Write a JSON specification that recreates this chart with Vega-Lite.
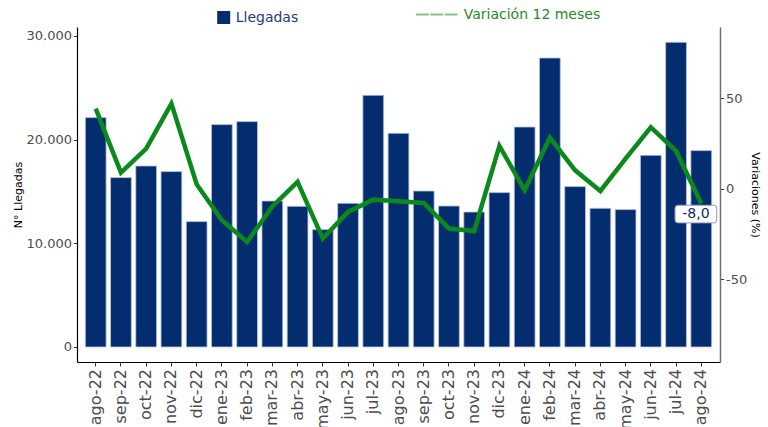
{
  "$schema": "https://vega.github.io/schema/vega-lite/v6.json",
  "width": 643,
  "height": 335,
  "autosize": {"type": "none"},
  "padding": {"left": 77, "top": 27, "right": 48, "bottom": 65},
  "background": "white",
  "config": {
    "font": "DejaVu Sans",
    "view": {"stroke": null},
    "locale": {"number": {"decimal": ",", "thousands": ".", "grouping": [3], "currency": ["", ""], "minus": "-"}}
  },
  "data": {
    "values": [
      {"mes": "ago-22", "llegadas": 22128, "variacion": 44.4},
      {"mes": "sep-22", "llegadas": 16340, "variacion": 9.1},
      {"mes": "oct-22", "llegadas": 17460, "variacion": 22.3},
      {"mes": "nov-22", "llegadas": 16920, "variacion": 47.2},
      {"mes": "dic-22", "llegadas": 12096, "variacion": 2.6},
      {"mes": "ene-23", "llegadas": 21453, "variacion": -17.3},
      {"mes": "feb-23", "llegadas": 21742, "variacion": -29.3},
      {"mes": "mar-23", "llegadas": 14083, "variacion": -9.6},
      {"mes": "abr-23", "llegadas": 13572, "variacion": 3.9},
      {"mes": "may-23", "llegadas": 11324, "variacion": -27.4},
      {"mes": "jun-23", "llegadas": 13861, "variacion": -12.7},
      {"mes": "jul-23", "llegadas": 24279, "variacion": -5.9},
      {"mes": "ago-23", "llegadas": 20614, "variacion": -6.8},
      {"mes": "sep-23", "llegadas": 15048, "variacion": -7.7},
      {"mes": "oct-23", "llegadas": 13601, "variacion": -21.9},
      {"mes": "nov-23", "llegadas": 13022, "variacion": -23.2},
      {"mes": "dic-23", "llegadas": 14893, "variacion": 23.8},
      {"mes": "ene-24", "llegadas": 21221, "variacion": -0.7},
      {"mes": "feb-24", "llegadas": 27877, "variacion": 28.4},
      {"mes": "mar-24", "llegadas": 15472, "variacion": 10.3},
      {"mes": "abr-24", "llegadas": 13379, "variacion": -1.1},
      {"mes": "may-24", "llegadas": 13254, "variacion": 16.8},
      {"mes": "jun-24", "llegadas": 18491, "variacion": 34.1},
      {"mes": "jul-24", "llegadas": 29391, "variacion": 21.0},
      {"mes": "ago-24", "llegadas": 18945, "variacion": -8.0}
    ]
  },
  "encoding": {
    "x": {
      "field": "mes",
      "type": "nominal",
      "sort": null,
      "scale": {"paddingInner": 0.176, "paddingOuter": 0.33},
      "axis": {
        "title": null,
        "labelAngle": -90,
        "labelAlign": "right",
        "labelBaseline": "middle",
        "labelFontSize": 16,
        "labelColor": "#4D4D4D",
        "labelPadding": 2.5,
        "tickSize": 4,
        "tickColor": "#333333",
        "domainColor": "#000000",
        "domainWidth": 1.2,
        "grid": false
      }
    }
  },
  "layer": [
    {
      "mark": {"type": "bar", "stroke": "#b9c5de", "strokeWidth": 0.8},
      "encoding": {
        "y": {
          "field": "llegadas",
          "type": "quantitative",
          "scale": {"domain": [-1447, 30867], "nice": false, "zero": false},
          "axis": {
            "title": "N° Llegadas",
            "titleFontSize": 11,
            "titleFontWeight": "normal",
            "titleColor": "#000000",
            "titlePadding": 3,
            "values": [0, 10000, 20000, 30000],
            "format": ",.0f",
            "labelFontSize": 13,
            "labelColor": "#4D4D4D",
            "labelPadding": 2,
            "tickSize": 3.5,
            "tickColor": "#333333",
            "domainColor": "#000000",
            "domainWidth": 1.2,
            "grid": false
          }
        },
        "fill": {
          "datum": "Llegadas",
          "scale": {"domain": ["Llegadas"], "range": ["#032D6F"]},
          "legend": {
            "title": null,
            "orient": "none",
            "legendX": 139.7,
            "legendY": -16.5,
            "padding": 0,
            "symbolType": "square",
            "symbolSize": 169,
            "symbolStrokeWidth": 0,
            "labelFontSize": 14,
            "labelColor": "#1F3A7A",
            "labelOffset": 5
          }
        }
      }
    },
    {
      "encoding": {
        "y": {
          "field": "variacion",
          "type": "quantitative",
          "scale": {"domain": [-95.6, 89.5], "nice": false, "zero": false},
          "axis": {
            "orient": "right",
            "title": "Variaciones (%)",
            "titleFontSize": 11,
            "titleFontWeight": "normal",
            "titleColor": "#000000",
            "titlePadding": 3,
            "values": [-50, 0, 50],
            "format": ".0f",
            "labelFontSize": 13,
            "labelColor": "#4D4D4D",
            "labelPadding": 2,
            "tickSize": 3.5,
            "tickColor": "#333333",
            "domainColor": "#707070",
            "domainWidth": 1.5,
            "grid": false
          }
        }
      },
      "layer": [
        {
          "mark": {"type": "line", "strokeWidth": 4.5},
          "encoding": {
            "stroke": {
              "datum": "Variación 12 meses",
              "scale": {"domain": ["Variación 12 meses"], "range": ["#0B8A1C"]},
              "legend": {
                "title": null,
                "orient": "none",
                "legendX": 337.7,
                "legendY": -34.5,
                "padding": 0,
                "symbolType": "stroke",
                "symbolSize": 1730,
                "symbolStrokeWidth": 1.8,
                "symbolOpacity": 0.5,
                "symbolDash": [13, 1.5],
                "labelFontSize": 14,
                "labelColor": "#1E8C28",
                "labelOffset": 5
              }
            }
          }
        },
        {
          "transform": [{"filter": "datum.mes == 'ago-24'"}],
          "mark": {
            "type": "point",
            "shape": "M-0.856,-0.424 L0.856,-0.424 Q1,-0.424 1,-0.28 L1,0.28 Q1,0.424 0.856,0.424 L-0.856,0.424 Q-1,0.424 -1,0.28 L-1,-0.28 Q-1,-0.424 -0.856,-0.424 Z",
            "size": 1739,
            "filled": true,
            "fill": "#FFFFFF",
            "stroke": "#8C9CC8",
            "strokeWidth": 1,
            "opacity": 1,
            "xOffset": -5.4,
            "yOffset": 10.6
          },
          "encoding": {}
        },
        {
          "transform": [{"filter": "datum.mes == 'ago-24'"}],
          "mark": {
            "type": "text",
            "fontSize": 14,
            "color": "#0D2C6C",
            "align": "center",
            "baseline": "middle",
            "dx": -5.4,
            "dy": 10.6
          },
          "encoding": {
            "text": {"field": "variacion", "type": "quantitative", "format": ".1f"}
          }
        }
      ]
    }
  ],
  "resolve": {"scale": {"y": "independent"}}
}
